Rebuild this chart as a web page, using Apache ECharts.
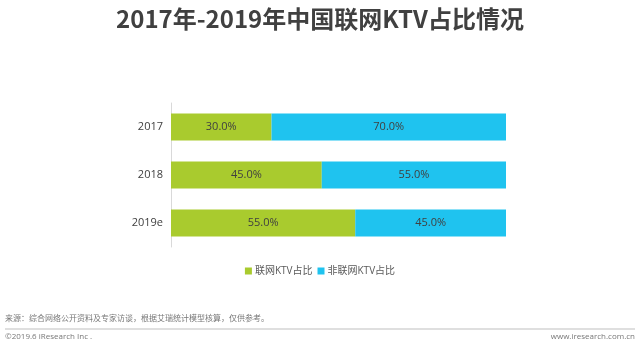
<!DOCTYPE html>
<html><head><meta charset="utf-8">
<script src="https://cdn.jsdelivr.net/npm/echarts@6/dist/echarts.min.js"></script>
<style>html,body{margin:0;padding:0;background:#fff;}#c{width:640px;height:344px;}</style>
</head><body><div id="c"></div>
<script>
var categories = ['2017', '2018', '2019e'];
var connected = [30.0, 45.0, 55.0];
var notConnected = [70.0, 55.0, 45.0];
var seriesNames = ['联网KTV占比', '非联网KTV占比'];
var titleText = '2017年-2019年中国联网KTV占比情况';
var sourceText = '来源：综合网络公开资料及专家访谈，根据艾瑞统计模型核算，仅供参考。';
var copyrightText = '©2019.6 iResearch Inc .';
var siteText = 'www.iresearch.com.cn';

var font = '"Open Sans", "Noto Sans CJK SC", sans-serif';
var chart = echarts.init(document.getElementById('c'));
var lbl = {show: true, position: 'inside', color: '#404040', fontSize: 11, fontFamily: font,
  formatter: function (p) { return p.value.toFixed(1) + '%'; }};
chart.setOption({
  animation: false,
  title: {text: titleText, left: 'center', top: 2,
    textStyle: {fontSize: 24, fontWeight: 'bold', color: '#404040', fontFamily: '"Noto Sans CJK SC", sans-serif'}},
  legend: {data: seriesNames, bottom: 63, left: 'center', itemWidth: 7, itemHeight: 7, itemGap: 5,
    icon: 'rect', textStyle: {fontSize: 10, color: '#595959', fontFamily: font, padding: [0, 0, 0, -2]}},
  grid: {left: 171, right: 134, top: 103, bottom: 97},
  xAxis: {type: 'value', min: 0, max: 100, show: false},
  yAxis: {type: 'category', data: categories, inverse: true,
    axisLine: {show: true, lineStyle: {color: '#D9D9D9'}}, axisTick: {show: false},
    axisLabel: {color: '#404040', fontSize: 11, margin: 8, fontFamily: font}},
  series: [
    {name: seriesNames[0], type: 'bar', stack: 'a', data: connected, barWidth: 27,
      itemStyle: {color: '#A9CB2E'}, label: lbl},
    {name: seriesNames[1], type: 'bar', stack: 'a', data: notConnected, barWidth: 27,
      itemStyle: {color: '#1FC3EF'}, label: lbl}
  ],
  graphic: [
    {type: 'text', left: 5, top: 315, style: {text: sourceText, fontSize: 8, fill: '#777', fontFamily: font}},
    {type: 'line', shape: {x1: 5, y1: 329, x2: 635, y2: 329}, style: {stroke: '#BFBFBF', lineWidth: 1}},
    {type: 'text', left: 5, top: 333, style: {text: copyrightText, fontSize: 8, fill: '#777', fontFamily: font}},
    {type: 'text', right: 5, top: 333, style: {text: siteText, fontSize: 8, fill: '#777', fontFamily: font}}
  ]
});
</script></body></html>
